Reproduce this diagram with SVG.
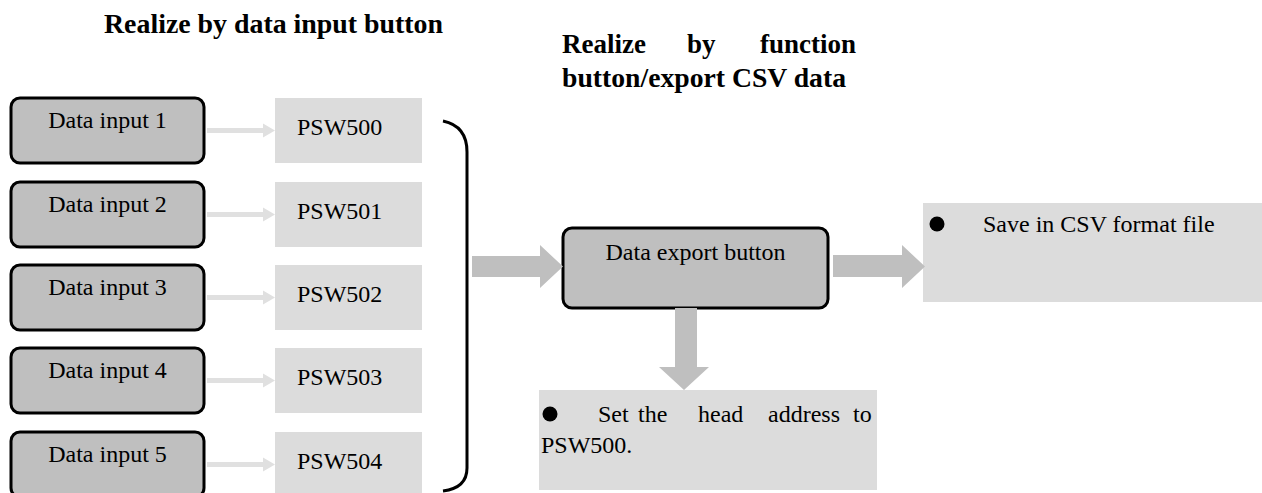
<svg xmlns="http://www.w3.org/2000/svg" width="1262" height="493" viewBox="0 0 1262 493">
<style>
text{font-family:"Liberation Serif","Times New Roman",serif;fill:#000}
.t{font-size:24px}
.title{font-size:27px;font-weight:bold}
.inbox{fill:#bfbfbf;stroke:#000;stroke-width:3}
.reg{fill:#dcdcdc}
.thin{stroke:#e0e0e0;stroke-width:5;fill:none}
.thinhead{fill:#e0e0e0}
.big{fill:#bfbfbf}
</style>
<rect width="1262" height="493" fill="#fff"/>
<g id="titles">
<text class="title" x="104" y="33" textLength="339" lengthAdjust="spacingAndGlyphs">Realize by data input button</text>
<text class="title" x="562" y="53">Realize</text>
<text class="title" x="687" y="53">by</text>
<text class="title" x="760" y="53">function</text>
<text class="title" x="562" y="87" textLength="284" lengthAdjust="spacingAndGlyphs">button/export CSV data</text>
</g>
<g id="input1"><rect class="inbox" x="11" y="98" width="193" height="65" rx="9"/><text class="t" x="107.5" y="128" text-anchor="middle">Data input 1</text></g>
<g id="input2"><rect class="inbox" x="11" y="182" width="193" height="65" rx="9"/><text class="t" x="107.5" y="212" text-anchor="middle">Data input 2</text></g>
<g id="input3"><rect class="inbox" x="11" y="265" width="193" height="65" rx="9"/><text class="t" x="107.5" y="295" text-anchor="middle">Data input 3</text></g>
<g id="input4"><rect class="inbox" x="11" y="348" width="193" height="65" rx="9"/><text class="t" x="107.5" y="378" text-anchor="middle">Data input 4</text></g>
<g id="input5"><rect class="inbox" x="11" y="432" width="193" height="65" rx="9"/><text class="t" x="107.5" y="462" text-anchor="middle">Data input 5</text></g>
<g id="psw500"><rect class="reg" x="275" y="98" width="147" height="65"/><text class="t" x="297" y="135">PSW500</text></g>
<g id="psw501"><rect class="reg" x="275" y="182" width="147" height="65"/><text class="t" x="297" y="219">PSW501</text></g>
<g id="psw502"><rect class="reg" x="275" y="265" width="147" height="65"/><text class="t" x="297" y="302">PSW502</text></g>
<g id="psw503"><rect class="reg" x="275" y="348" width="147" height="65"/><text class="t" x="297" y="385">PSW503</text></g>
<g id="psw504"><rect class="reg" x="275" y="432" width="147" height="65"/><text class="t" x="297" y="469">PSW504</text></g>
<g id="export"><rect class="inbox" x="563" y="228" width="265" height="80" rx="9"/><text class="t" x="695.5" y="260" text-anchor="middle">Data export button</text></g>
<g id="csv"><rect class="reg" x="923" y="203" width="339" height="99"/><circle cx="937" cy="224" r="7.5"/><text class="t" x="983" y="232">Save in CSV format file</text></g>
<g id="head"><rect class="reg" x="539" y="390" width="338" height="100"/><circle cx="550" cy="414" r="7.5"/>
<text class="t" x="598" y="422">Set</text><text class="t" x="638" y="422">the</text><text class="t" x="698" y="422">head</text><text class="t" x="768" y="422">address</text><text class="t" x="853" y="422">to</text>
<text class="t" x="541" y="453">PSW500.</text></g>
<g id="connectors">
<path class="thin" d="M207,130.5H264M207,214.5H264M207,297.5H264M207,380.5H264M207,464.5H264"/>
<path class="thinhead" d="M263,123.5L275,130.5L263,137.5ZM263,207.5L275,214.5L263,221.5ZM263,290.5L275,297.5L263,304.5ZM263,373.5L275,380.5L263,387.5ZM263,457.5L275,464.5L263,471.5Z"/>
<path d="M443,121Q467,126 467,152V468Q467,488 443,491" fill="none" stroke="#000" stroke-width="3"/>
<path class="big" d="M472,256H540V245L563,266.5L540,288V277H472Z"/>
<path class="big" d="M833,255H902V245L925,266.5L902,288V277H833Z"/>
<path class="big" d="M675,308H697V367H709L684,390L659,367H675Z"/>
</g>
</svg>
